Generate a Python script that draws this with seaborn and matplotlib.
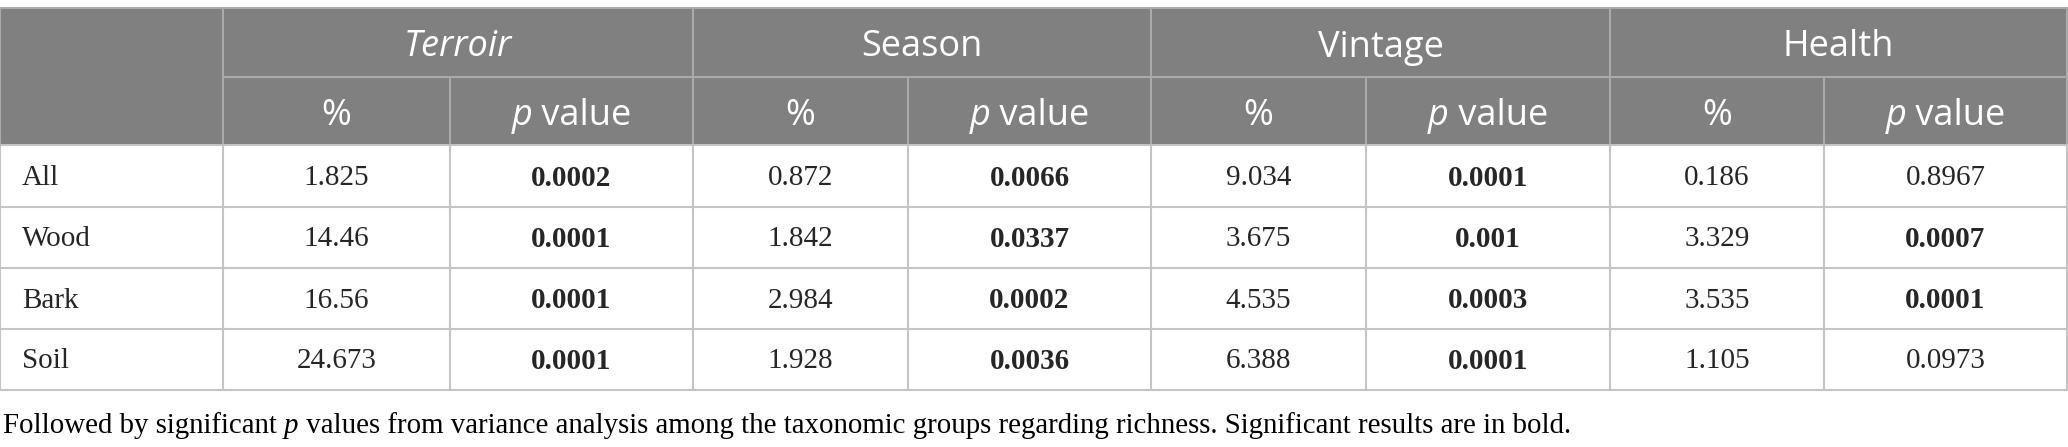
import matplotlib
matplotlib.use("Agg")
import matplotlib.pyplot as plt
import seaborn as sns
from matplotlib.patches import Rectangle

# table content
groups = ["Terroir", "Season", "Vintage", "Health"]
row_labels = ["All", "Wood", "Bark", "Soil"]
terroir_pct = ["1.825", "14.46", "16.56", "24.673"]
terroir_p = ["0.0002", "0.0001", "0.0001", "0.0001"]
season_pct = ["0.872", "1.842", "2.984", "1.928"]
season_p = ["0.0066", "0.0337", "0.0002", "0.0036"]
vintage_pct = ["9.034", "3.675", "4.535", "6.388"]
vintage_p = ["0.0001", "0.001", "0.0003", "0.0001"]
health_pct = ["0.186", "3.329", "3.535", "1.105"]
health_p = ["0.8967", "0.0007", "0.0001", "0.0973"]
caption = [("Followed by significant ", "normal"), ("p", "italic"),
           (" values from variance analysis among the taxonomic groups regarding richness. "
            "Significant results are in bold.", "normal")]

pct_cols = [terroir_pct, season_pct, vintage_pct, health_pct]
p_cols = [terroir_p, season_p, vintage_p, health_p]

sns.set_theme(style="white")
head_font = "Open Sans"
body_font = ["Liberation Serif", "DejaVu Serif"]

W, H = 2068, 447
fig = plt.figure(figsize=(W / 100, H / 100), dpi=100)
ax = fig.add_axes([0, 0, 1, 1])
ax.set_xlim(0, W)
ax.set_ylim(H, 0)
ax.axis("off")
renderer = fig.canvas.get_renderer()

# layout in pixels
col_x = [0, 223, 450, 693, 908, 1151, 1366, 1610, 1824, 2067]
row_y = [8, 77, 145, 207, 268, 329, 390]
grid_c = "#c4c4c4"
head_line_c = "#aaaaaa"
head_bg = "#808080"
lw = 1.5


def draw_runs(x, y, runs, ha="center", size=20, family=None, color="black"):
    texts = []
    for s, style in runs:
        t = ax.text(0, y, s, fontsize=size, family=family, style=style,
                    color=color, va="center", ha="left")
        texts.append(t)
    widths = [t.get_window_extent(renderer).width for t in texts]
    total = sum(widths)
    start = x - total / 2 if ha == "center" else x
    for t, w in zip(texts, widths):
        t.set_x(start)
        start += w


# header background
ax.add_patch(Rectangle((0, row_y[0]), col_x[-1], row_y[2] - row_y[0],
                       facecolor=head_bg, edgecolor="none", zorder=0))

# horizontal lines
ax.plot([0, col_x[-1]], [row_y[0]] * 2, color=head_line_c, lw=lw)
ax.plot([col_x[1], col_x[-1]], [row_y[1]] * 2, color=head_line_c, lw=lw)
ax.plot([0, col_x[-1]], [row_y[2]] * 2, color=grid_c, lw=lw)
for y in row_y[3:]:
    ax.plot([0, col_x[-1]], [y, y], color=grid_c, lw=lw)

# vertical lines
for i, x in enumerate(col_x):
    y0 = row_y[1] if i in (2, 4, 6, 8) else row_y[0]
    ax.plot([x, x], [y0, row_y[2]], color=head_line_c, lw=lw)
    ax.plot([x, x], [row_y[2], row_y[-1]], color=grid_c, lw=lw)

# header text
head_size = 26
head_dy = 5
for g, name in enumerate(groups):
    xc = (col_x[1 + 2 * g] + col_x[3 + 2 * g]) / 2
    yc = (row_y[0] + row_y[1]) / 2 + head_dy
    ax.text(xc, yc, name, fontsize=head_size, family=head_font, color="white",
            style="italic" if name == "Terroir" else "normal",
            ha="center", va="center")
    y2 = (row_y[1] + row_y[2]) / 2 + head_dy
    x_pct = (col_x[1 + 2 * g] + col_x[2 + 2 * g]) / 2
    x_p = (col_x[2 + 2 * g] + col_x[3 + 2 * g]) / 2
    ax.text(x_pct, y2, "%", fontsize=head_size, family=head_font, color="white",
            ha="center", va="center")
    draw_runs(x_p, y2, [("p", "italic"), (" value", "normal")],
              size=head_size, family=head_font, color="white")

# body
body_size = 21
for r, lab in enumerate(row_labels):
    yc = (row_y[2 + r] + row_y[3 + r]) / 2 + 2
    ax.text(22, yc, lab, fontsize=body_size, family=body_font,
            ha="left", va="center")
    for g in range(len(groups)):
        x_pct = (col_x[1 + 2 * g] + col_x[2 + 2 * g]) / 2
        x_p = (col_x[2 + 2 * g] + col_x[3 + 2 * g]) / 2
        ax.text(x_pct, yc, pct_cols[g][r], fontsize=body_size, family=body_font,
                ha="center", va="center")
        pv = p_cols[g][r]
        ax.text(x_p, yc, pv, fontsize=body_size, family=body_font,
                weight="bold" if float(pv) < 0.05 else "normal",
                ha="center", va="center")

# caption
draw_runs(3, 426, caption, ha="left", size=20.8, family=body_font)

fig.savefig("out.png", dpi=100)
